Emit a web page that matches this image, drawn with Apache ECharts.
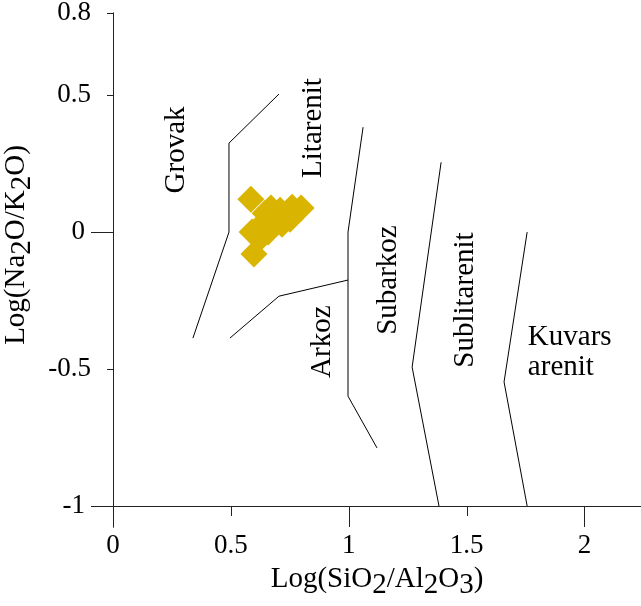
<!DOCTYPE html>
<html><head><meta charset="utf-8">
<script src="https://cdn.jsdelivr.net/npm/echarts@6/dist/echarts.min.js"></script>
<style>html,body{margin:0;padding:0;background:#fff}#c{width:641px;height:606px}</style>
</head><body><div id="c"></div>
<script>
// Axis ranges and ticks
const xMin = 0, xMax = 2.24, yMin = -1, yMax = 0.8;
const yAxisFloor = -1.0767;   // y axis line runs a little below y = -1 (crossing x axis)
const xTickLong = [0, 1, 2];
const xTickShort = [0.5, 1.5];
const xTickLabelStep = 0.5;  // labels at 0, 0.5, 1, 1.5, 2
const yTickLong = [0, -1];
const yTickShort = [0.8, 0.5, -0.5];

// Field boundary lines [log(SiO2/Al2O3), log(Na2O/K2O)]
const lineGrovakLit = [[0.339, -0.387], [0.492, 0.0], [0.492, 0.325], [0.704, 0.504]];
const lineArkozLit = [[0.496, -0.387], [0.704, -0.234], [0.997, -0.175]];
const lineArkozSub = [[1.061, 0.383], [0.997, 0.0], [0.997, -0.599], [1.12, -0.788]];
const lineSubSublit = [[1.392, 0.255], [1.269, -0.493], [1.383, -1.0]];
const lineSublitKuv = [[1.757, 0.0], [1.659, -0.547], [1.757, -1.0]];

// Samples
const sampleX = [0.585, 0.590, 0.598, 0.670, 0.760, 0.798, 0.645, 0.751, 0.717, 0.658, 0.624, 0.709, 0.692, 0.632];
const sampleY = [0.120, 0.000, -0.080, 0.088, 0.091, 0.088, 0.069, 0.047, 0.029, 0.000, -0.022, 0.080, 0.051, 0.029];

// Field names and anchor points
const fieldNames = ['Grovak', 'Litarenit', 'Arkoz', 'Subarkoz', 'Sublitarenit', 'Kuvars\narenit'];
const fieldX = [0.267, 0.849, 0.887, 1.167, 1.493, 1.760];
const fieldY = [0.30, 0.38, -0.40, -0.175, -0.248, -0.44];

const FONT = "'Liberation Serif','DejaVu Serif','Times New Roman',serif";
const AX = '#222';

const chart = echarts.init(document.getElementById('c'), null, {renderer: 'canvas'});

function lineSeries(pts) {
  return {type: 'line', data: pts, symbol: 'none', silent: true, xAxisIndex: 0, yAxisIndex: 0,
    lineStyle: {color: '#000', width: 1}, clip: false, z: 2};
}

// x-axis tick marks drawn below the axis line (y = -1) at each tick value
function tickSeries(values, len) {
  return {
    type: 'custom', xAxisIndex: 0, yAxisIndex: 0, silent: true, clip: false, z: 50, zlevel: 1,
    data: values.map(v => [v, yMin]),
    renderItem: function (params, api) {
      const p = api.coord([api.value(0), api.value(1)]);
      const x = Math.round(p[0]) + 0.5;
      const y = Math.round(p[1]);
      return {type: 'line', shape: {x1: x, y1: y, x2: x, y2: y + len},
        style: {stroke: AX, lineWidth: 1}};
    }
  };
}

const subRich = {
  n: {fontFamily: FONT, fontSize: 29, color: '#000'},
  s: {fontFamily: FONT, fontSize: 29, color: '#000', padding: [13, 0, 0, 0]}
};

const baseY = {type: 'value', min: yAxisFloor, max: yMax, position: 'left',
  splitLine: {show: false}, axisLine: {show: true, onZero: false, lineStyle: {color: AX, width: 1}}};

chart.setOption({
  animation: false,
  backgroundColor: '#fff',
  grid: {left: 113, right: 0, top: 13, bottom: 79, containLabel: false, outerBoundsMode: 'none'},
  xAxis: [{
    type: 'value', min: xMin, max: xMax, position: 'bottom', interval: xTickLabelStep,
    splitLine: {show: false},
    axisLine: {show: true, onZero: true, onZeroAxisIndex: 2, lineStyle: {color: AX, width: 1}},
    axisTick: {show: false},
    axisLabel: {show: true, margin: 5, fontFamily: FONT, fontSize: 27, color: '#000', showMaxLabel: false,
      backgroundColor: 'transparent'},
    name: '{n|Log(SiO}{s|2}{n|/Al}{s|2}{n|O}{s|3}{n|)}', nameLocation: 'middle', nameGap: 31,
    nameTextStyle: {rich: subRich}
  }],
  yAxis: [
    Object.assign({}, baseY, {
      axisTick: {show: true, customValues: yTickShort, length: 6, lineStyle: {color: AX}},
      axisLabel: {show: true, customValues: yTickShort, margin: 22, fontFamily: FONT, fontSize: 27, color: '#000'},
      name: '{n|Log(Na}{s|2}{n|O/K}{s|2}{n|O)}', nameLocation: 'middle', nameGap: 70, nameRotate: 90,
      nameTextStyle: {rich: subRich, padding: [0, 0, 0, 50]}
    }),
    Object.assign({}, baseY, {
      axisTick: {show: true, customValues: yTickLong, length: 22, lineStyle: {color: AX}},
      axisLabel: {show: true, customValues: yTickLong, margin: 28, fontFamily: FONT, fontSize: 27, color: '#000'}
    }),
    // helper axis whose zero sits at y = -1 of the main axis, used to place the x axis
    {type: 'value', min: yAxisFloor - yMin, max: yMax - yMin, position: 'left', show: false,
     splitLine: {show: false}, axisLine: {show: false, onZero: false}, axisTick: {show: false}, axisLabel: {show: false}}
  ],
  series: [
    lineSeries(lineGrovakLit),
    lineSeries(lineArkozLit),
    lineSeries(lineArkozSub),
    lineSeries(lineSubSublit),
    lineSeries(lineSublitKuv),
    tickSeries(xTickLong, 21),
    tickSeries(xTickShort, 10),
    {
      type: 'scatter', xAxisIndex: 0, yAxisIndex: 0, symbol: 'diamond', symbolSize: 27,
      itemStyle: {color: '#D9B400', opacity: 1},
      data: sampleX.map((x, i) => [x, sampleY[i]]), z: 3
    },
    {
      type: 'scatter', xAxisIndex: 0, yAxisIndex: 0, symbolSize: 0, silent: true, z: 4,
      itemStyle: {opacity: 1},
      data: fieldNames.map((n, i) => ({
        value: [fieldX[i], fieldY[i]], name: n,
        label: n.indexOf('\n') >= 0
          ? {show: true, formatter: '{b}', position: 'inside', align: 'left', verticalAlign: 'middle',
             rotate: 0, fontFamily: FONT, fontSize: 29, lineHeight: 30, color: '#000', opacity: 1}
          : {show: true, formatter: '{b}', position: 'inside', rotate: 90,
             fontFamily: FONT, fontSize: 29, color: '#000', opacity: 1}
      }))
    }
  ]
});
</script></body></html>
